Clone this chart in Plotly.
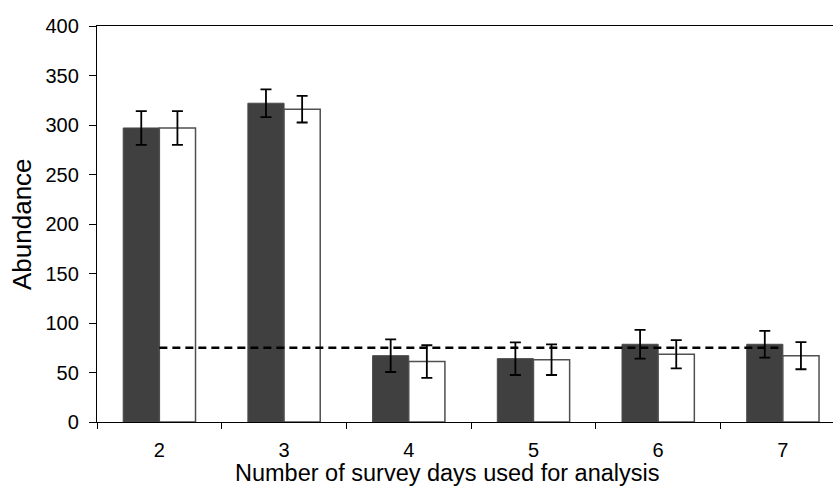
import plotly.graph_objects as go

categories = ["2", "3", "4", "5", "6", "7"]
series_a = [297, 322, 67, 64, 78.5, 78.5]
series_a_err = [17, 14, 16.5, 16.5, 14.5, 13.5]
series_b = [297, 316, 61, 63, 68.5, 67]
series_b_err = [17, 13.5, 16.5, 15.5, 14.3, 13.7]
reference_value = 75
y_ticks = [0, 50, 100, 150, 200, 250, 300, 350, 400]

font_family = "Liberation Sans, Arial, sans-serif"

fig = go.Figure()
fig.add_trace(go.Bar(
    x=categories, y=series_a,
    marker=dict(color="#404040", line=dict(color="#4a4a4a", width=1)),
    error_y=dict(type="data", array=series_a_err, color="black", thickness=1.8, width=5.5),
    showlegend=False,
))
fig.add_trace(go.Bar(
    x=categories, y=series_b,
    marker=dict(color="white", line=dict(color="#505050", width=1.5)),
    error_y=dict(type="data", array=series_b_err, color="black", thickness=1.8, width=5.5),
    showlegend=False,
))
fig.add_trace(go.Scatter(
    x=categories, y=[reference_value] * len(categories),
    mode="lines", line=dict(color="black", width=2.5, dash="8px,5px"),
    showlegend=False, hoverinfo="skip",
))

fig.update_layout(
    width=833, height=486,
    margin=dict(l=97, r=0, t=26, b=64, autoexpand=False),
    paper_bgcolor="white", plot_bgcolor="white",
    barmode="group", bargap=0.42, bargroupgap=0,
    font=dict(family=font_family, size=20, color="black"),
    annotations=[
        dict(
            text="Number of survey days used for analysis",
            xref="paper", yref="paper", x=(447.5 - 97) / 736, y=0, yshift=-51,
            xanchor="center", yanchor="middle", showarrow=False,
            font=dict(family=font_family, size=23.5, color="black"),
        ),
        dict(
            text="Abundance",
            xref="paper", yref="paper", x=0, xshift=-75, y=0.5,
            xanchor="center", yanchor="middle", showarrow=False, textangle=-90,
            font=dict(family=font_family, size=26, color="black"),
        ),
    ],
)
fig.update_xaxes(
    type="category", range=[-0.5, 5.402], automargin=False,
    showline=True, linecolor="black", linewidth=1.3, mirror=True,
    ticks="outside", tickson="boundaries", ticklen=6, tickcolor="black", tickwidth=1.3,
    showgrid=False, tickfont=dict(size=20), ticklabelstandoff=10,
)
fig.update_yaxes(
    range=[0, 400], tickvals=y_ticks, automargin=False,
    showline=True, linecolor="black", linewidth=1.3,
    ticks="outside", ticklen=7, tickcolor="black", tickwidth=1.3,
    showgrid=False, zeroline=False, tickfont=dict(size=20), ticklabelstandoff=6,
)

fig.write_html(
    "out.html",
    config={"displayModeBar": False},
    post_script="document.body.style.margin='0';",
)
